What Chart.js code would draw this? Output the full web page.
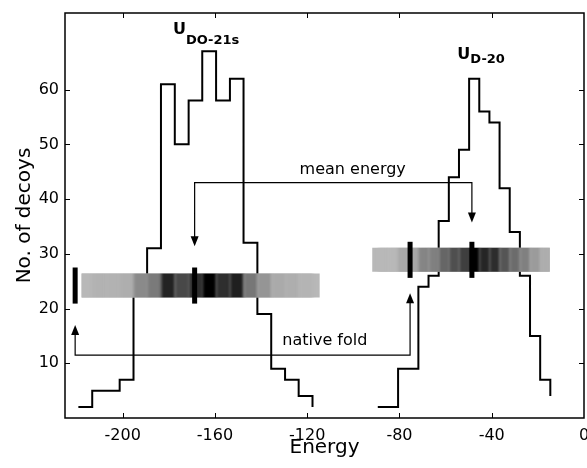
<!DOCTYPE html>
<html>
<head>
<meta charset="utf-8">
<title>Decoy energy histograms</title>
<script src="https://cdn.jsdelivr.net/npm/chart.js@4.4.1/dist/chart.umd.min.js"></script>
<style>
  html, body { margin: 0; padding: 0; background: #fff; }
  .chart-box { width: 587px; height: 468px; }
</style>
</head>
<body>
<div class="chart-box"><canvas id="decoyChart"></canvas></div>
<script>
/* Data */

const energyTicks = [-200, -160, -120, -80, -40, 0];
const decoyTicks = [10, 20, 30, 40, 50, 60];

// U_DO-21s histogram, bin edges and counts (last count = end of the stairs)
const do21sEdges = [-219.2, -213.2, -207.3, -201.3, -195.3, -189.4, -183.4, -177.4, -171.4,
  -165.5, -159.5, -153.5, -147.6, -141.6, -135.6, -129.6, -123.7, -117.7];
const do21sCounts = [2, 5, 5, 7, 24, 31, 61, 50, 58, 67, 58, 62, 32, 19, 9, 7, 4, 2];

// U_D-20 histogram
const d20Edges = [-89.4, -85.0, -80.6, -76.2, -71.8, -67.4, -63.0, -58.6, -54.2,
  -49.8, -45.4, -41.0, -36.6, -32.2, -27.8, -23.4, -19.0, -14.6];
const d20Counts = [2, 2, 9, 9, 24, 26, 36, 44, 49, 62, 56, 54, 42, 34, 26, 15, 7, 4];

const nativeEnergy = [-220.6, -75.4];
const meanEnergy = [-168.8, -48.6];

/* Annotation layout (data units) */

const strips = [
  { edges: do21sEdges, counts: do21sCounts, from: -217.8, to: -114.6, low: 22.0, high: 26.4, markers: [nativeEnergy[0], meanEnergy[0]] },
  { edges: d20Edges, counts: d20Counts, from: -91.8, to: -14.8, low: 26.7, high: 31.1, markers: [nativeEnergy[1], meanEnergy[1]] }
];

const meanArrow = { lineY: 43.0, tips: [31.4, 35.7], label: "mean energy", labelX: -123.3, labelY: 44.5 };
const nativeArrow = { lineY: 11.5, tips: [17.0, 22.8], label: "native fold", labelX: -130.8, labelY: 13.3 };

const histLabels = [
  { main: "U", sub: "DO-21s", x: -178.2, y: 70.1, subY: 68.3 },
  { main: "U", sub: "D-20", x: -54.9, y: 65.6, subY: 64.8 }
];

const FONT = "DejaVu Sans";
Chart.defaults.font.family = FONT;
Chart.defaults.color = "#000";

function stairPoints(edges, counts) {
  return edges.map((e, i) => ({ x: e, y: counts[i] }));
}

function drawHead(ctx, x, y, dir) {
  // dir 1 = pointing down, -1 = pointing up
  ctx.beginPath();
  ctx.moveTo(x, y);
  ctx.lineTo(x - 4, y - dir * 10);
  ctx.lineTo(x + 4, y - dir * 10);
  ctx.closePath();
  ctx.fill();
}

/* Overlay plugin */

const decoyOverlay = {
  id: "decoyOverlay",
  beforeDraw(chart) {
    const ctx = chart.ctx;
    ctx.save();
    ctx.fillStyle = "#fff";
    ctx.fillRect(0, 0, chart.width, chart.height);
    ctx.restore();
  },
  afterDatasetsDraw(chart) {
    const { ctx, chartArea } = chart;
    const xs = chart.scales.x;
    const ys = chart.scales.y;
    const px = v => xs.getPixelForValue(v);
    const py = v => ys.getPixelForValue(v);

    ctx.save();

    // grey density strips (soft blocks)
    strips.forEach(strip => {
      const peak = Math.max(...strip.counts);
      const shade = c => {
        const g = Math.round(188 * Math.pow(1 - c / peak, 0.7));
        return `rgb(${g},${g},${g})`;
      };
      const top = py(strip.high);
      const bottom = py(strip.low);
      const x0 = px(strip.from);
      const x1 = px(strip.to);

      ctx.save();
      ctx.beginPath();
      ctx.rect(x0, top, x1 - x0, bottom - top);
      ctx.clip();
      ctx.filter = "blur(1.5px)";
      ctx.fillStyle = shade(Math.min(...strip.counts));
      ctx.fillRect(x0 - 20, top - 10, x1 - x0 + 40, bottom - top + 20);
      for (let i = 0; i < strip.edges.length - 1; i++) {
        ctx.fillStyle = shade(strip.counts[i]);
        const a = px(strip.edges[i]);
        const b = px(strip.edges[i + 1]);
        ctx.fillRect(a, top - 10, b - a + 0.5, bottom - top + 20);
      }
      ctx.restore();

      ctx.fillStyle = "#000";
      strip.markers.forEach(m => {
        ctx.fillRect(px(m) - 2.5, top - 6, 5, bottom - top + 12);
      });
    });

    // arrows
    ctx.strokeStyle = "#000";
    ctx.fillStyle = "#000";
    ctx.lineWidth = 1.2;

    ctx.beginPath();
    ctx.moveTo(px(meanEnergy[0]), py(meanArrow.tips[0]) - 9);
    ctx.lineTo(px(meanEnergy[0]), py(meanArrow.lineY));
    ctx.lineTo(px(meanEnergy[1]), py(meanArrow.lineY));
    ctx.lineTo(px(meanEnergy[1]), py(meanArrow.tips[1]) - 9);
    ctx.stroke();
    drawHead(ctx, px(meanEnergy[0]), py(meanArrow.tips[0]), 1);
    drawHead(ctx, px(meanEnergy[1]), py(meanArrow.tips[1]), 1);

    ctx.beginPath();
    ctx.moveTo(px(nativeEnergy[0]), py(nativeArrow.tips[0]) + 9);
    ctx.lineTo(px(nativeEnergy[0]), py(nativeArrow.lineY));
    ctx.lineTo(px(nativeEnergy[1]), py(nativeArrow.lineY));
    ctx.lineTo(px(nativeEnergy[1]), py(nativeArrow.tips[1]) + 9);
    ctx.stroke();
    drawHead(ctx, px(nativeEnergy[0]), py(nativeArrow.tips[0]), -1);
    drawHead(ctx, px(nativeEnergy[1]), py(nativeArrow.tips[1]), -1);

    // texts
    ctx.textAlign = "left";
    ctx.textBaseline = "alphabetic";
    ctx.font = `16px "${FONT}"`;
    [meanArrow, nativeArrow].forEach(a => {
      ctx.fillText(a.label, px(a.labelX), py(a.labelY));
    });

    histLabels.forEach(l => {
      ctx.font = `bold 16px "${FONT}"`;
      const lx = px(l.x);
      ctx.fillText(l.main, lx, py(l.y));
      const w = ctx.measureText(l.main).width;
      ctx.font = `bold 13px "${FONT}"`;
      ctx.fillText(l.sub, lx + w, py(l.subY));
    });

    // frame and inward ticks
    const { left, right, top, bottom } = chartArea;
    ctx.lineWidth = 1.5;
    ctx.strokeRect(left, top, right - left, bottom - top);
    ctx.lineWidth = 1;
    ctx.beginPath();
    energyTicks.forEach(v => {
      const x = Math.round(px(v)) + 0.5;
      if (x <= left + 1 || x >= right - 1) return;
      ctx.moveTo(x, bottom);
      ctx.lineTo(x, bottom - 5);
      ctx.moveTo(x, top);
      ctx.lineTo(x, top + 5);
    });
    decoyTicks.forEach(v => {
      const y = Math.round(py(v)) + 0.5;
      ctx.moveTo(left, y);
      ctx.lineTo(left + 5, y);
      ctx.moveTo(right, y);
      ctx.lineTo(right - 5, y);
    });
    ctx.stroke();

    ctx.restore();
  }
};

/* Chart */

const decoyChartCanvas = document.querySelector("#decoyChart");

new Chart(decoyChartCanvas, {
  type: "line",
  data: {
    datasets: [
      {
        label: "U DO-21s",
        data: stairPoints(do21sEdges, do21sCounts),
        stepped: true,
        borderColor: "#000",
        borderWidth: 2,
        pointRadius: 0,
        fill: false
      },
      {
        label: "U D-20",
        data: stairPoints(d20Edges, d20Counts),
        stepped: true,
        borderColor: "#000",
        borderWidth: 2,
        pointRadius: 0,
        fill: false
      }
    ]
  },
  options: {
    responsive: true,
    maintainAspectRatio: false,
    animation: false,
    layout: {
      padding: { top: 13, right: 3, left: 0, bottom: 0 }
    },
    plugins: {
      legend: { display: false },
      tooltip: { enabled: false }
    },
    scales: {
      x: {
        type: "linear",
        min: -225,
        max: 0,
        afterBuildTicks: scale => {
          scale.ticks = energyTicks.map(v => ({ value: v }));
        },
        afterFit: scale => {
          scale.height = 50;
          scale.paddingLeft = 0;
          scale.paddingRight = 0;
        },
        grid: { display: false, drawTicks: false },
        border: { display: false },
        ticks: {
          font: { size: 16 },
          color: "#000",
          padding: 8,
          maxRotation: 0,
          autoSkip: false
        },
        title: {
          display: true,
          text: "Energy",
          font: { size: 20 },
          color: "#000",
          padding: { top: 0, bottom: 8 }
        }
      },
      y: {
        type: "linear",
        min: 0,
        max: 74,
        afterBuildTicks: scale => {
          scale.ticks = decoyTicks.map(v => ({ value: v }));
        },
        afterFit: scale => {
          scale.width = 65;
          scale.paddingTop = 0;
          scale.paddingBottom = 0;
        },
        grid: { display: false, drawTicks: false },
        border: { display: false },
        ticks: {
          font: { size: 16 },
          color: "#000",
          padding: 6
        },
        title: {
          display: true,
          text: "No. of decoys",
          font: { size: 20 },
          color: "#000",
          padding: { top: 13, bottom: 0 }
        }
      }
    }
  },
  plugins: [decoyOverlay]
});
</script>
</body>
</html>
